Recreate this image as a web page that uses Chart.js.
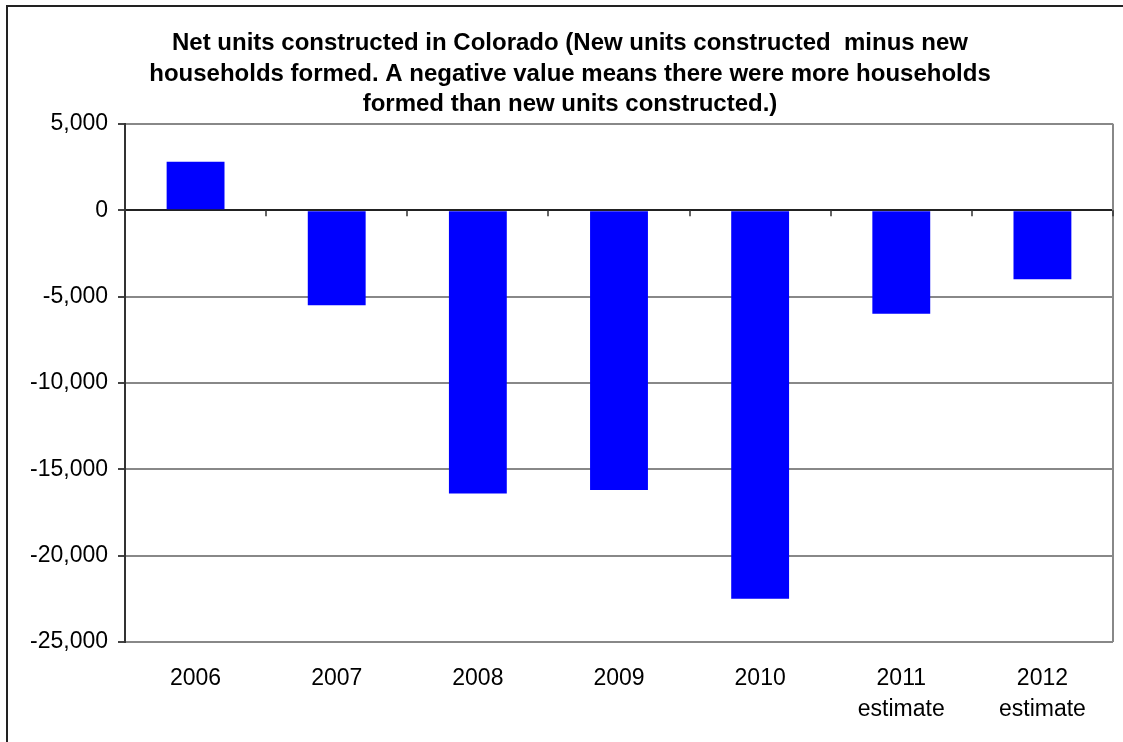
<!DOCTYPE html>
<html>
<head>
<meta charset="utf-8">
<script src="https://cdn.jsdelivr.net/npm/chart.js@4/dist/chart.umd.min.js"></script>
<style>
  html, body { margin: 0; padding: 0; background: #fff; }
  #wrap { width: 1123px; height: 742px; position: relative; }
</style>
</head>
<body>
<div id="wrap"><canvas id="netUnits" width="1123" height="742"></canvas></div>
<script>
// values
const years = [['2006'], ['2007'], ['2008'], ['2009'], ['2010'], ['2011', 'estimate'], ['2012', 'estimate']];
const netUnits = [2800, -5500, -16400, -16200, -22500, -6000, -4000];
const yTicks = [5000, 0, -5000, -10000, -15000, -20000, -25000];

const titleLines = [
  'Net units constructed in Colorado (New units constructed  minus new',
  'households formed. A negative value means there were more households',
  'formed than new units constructed.)'
];

const fontFamily = '"Liberation Sans", Arial, sans-serif';

// outer frame, right border of the plot and little ticks sitting on the zero line
const framePlugin = {
  id: 'frame',
  beforeDraw(chart) {
    const ctx = chart.ctx;
    ctx.save();
    ctx.fillStyle = '#fff';
    ctx.fillRect(0, 0, chart.width, chart.height);
    ctx.strokeStyle = '#222';
    ctx.lineWidth = 2;
    ctx.beginPath();
    ctx.moveTo(7, chart.height);
    ctx.lineTo(7, 6);
    ctx.lineTo(chart.width, 6);
    ctx.stroke();
    ctx.restore();
  },
  afterDatasetsDraw(chart) {
    const ctx = chart.ctx;
    const area = chart.chartArea;
    const x = chart.scales.x;
    const y0 = chart.scales.y.getPixelForValue(0);
    ctx.save();
    ctx.strokeStyle = '#888';
    ctx.lineWidth = 2;
    ctx.beginPath();
    ctx.moveTo(area.right, area.top);
    ctx.lineTo(area.right, area.bottom);
    ctx.stroke();
    ctx.strokeStyle = '#333';
    ctx.lineWidth = 1.5;
    ctx.beginPath();
    for (let i = 0; i < years.length; i++) {
      const px = Math.round((x.getPixelForValue(i) + x.getPixelForValue(i + 1)) / 2);
      const bx = i === years.length - 1 ? area.right : px;
      ctx.moveTo(bx, y0);
      ctx.lineTo(bx, y0 + 6);
    }
    ctx.stroke();
    ctx.restore();
  }
};

const ctx = document.getElementById('netUnits');
new Chart(ctx, {
  type: 'bar',
  data: {
    labels: years,
    datasets: [{
      label: 'Net units constructed',
      data: netUnits,
      backgroundColor: '#0000FF',
      borderWidth: 0,
      barPercentage: 0.41,
      categoryPercentage: 1.0
    }]
  },
  options: {
    responsive: false,
    animation: false,
    layout: {
      padding: { top: 28, left: 27, right: 10, bottom: 0 }
    },
    plugins: {
      legend: { display: false },
      tooltip: { enabled: false },
      title: {
        display: true,
        text: titleLines,
        color: '#000',
        font: { family: fontFamily, size: 24, weight: 'bold', lineHeight: 1.275 },
        padding: { top: 0, bottom: 4 }
      }
    },
    scales: {
      x: {
        offset: true,
        afterFit(scale) { scale.height = 100; },
        border: { display: false },
        grid: { display: false, drawTicks: false },
        ticks: {
          color: '#000',
          padding: 21,
          maxRotation: 0,
          font: { family: fontFamily, size: 23, lineHeight: 1.35 }
        }
      },
      y: {
        min: -25000,
        max: 5000,
        afterFit(scale) { scale.width = 98; },
        afterBuildTicks(scale) { scale.ticks = yTicks.map(v => ({ value: v })); },
        border: { display: true, color: '#333', width: 2 },
        grid: {
          color: (c) => c.tick && c.tick.value === 0 ? '#222' : '#888',
          lineWidth: 2,
          tickLength: 7,
          tickColor: '#444'
        },
        ticks: {
          color: '#000',
          padding: 10,
          font: { family: fontFamily, size: 23 },
          callback: (v) => Number(v).toLocaleString('en-US')
        }
      }
    }
  },
  plugins: [framePlugin]
});
</script>
</body>
</html>
